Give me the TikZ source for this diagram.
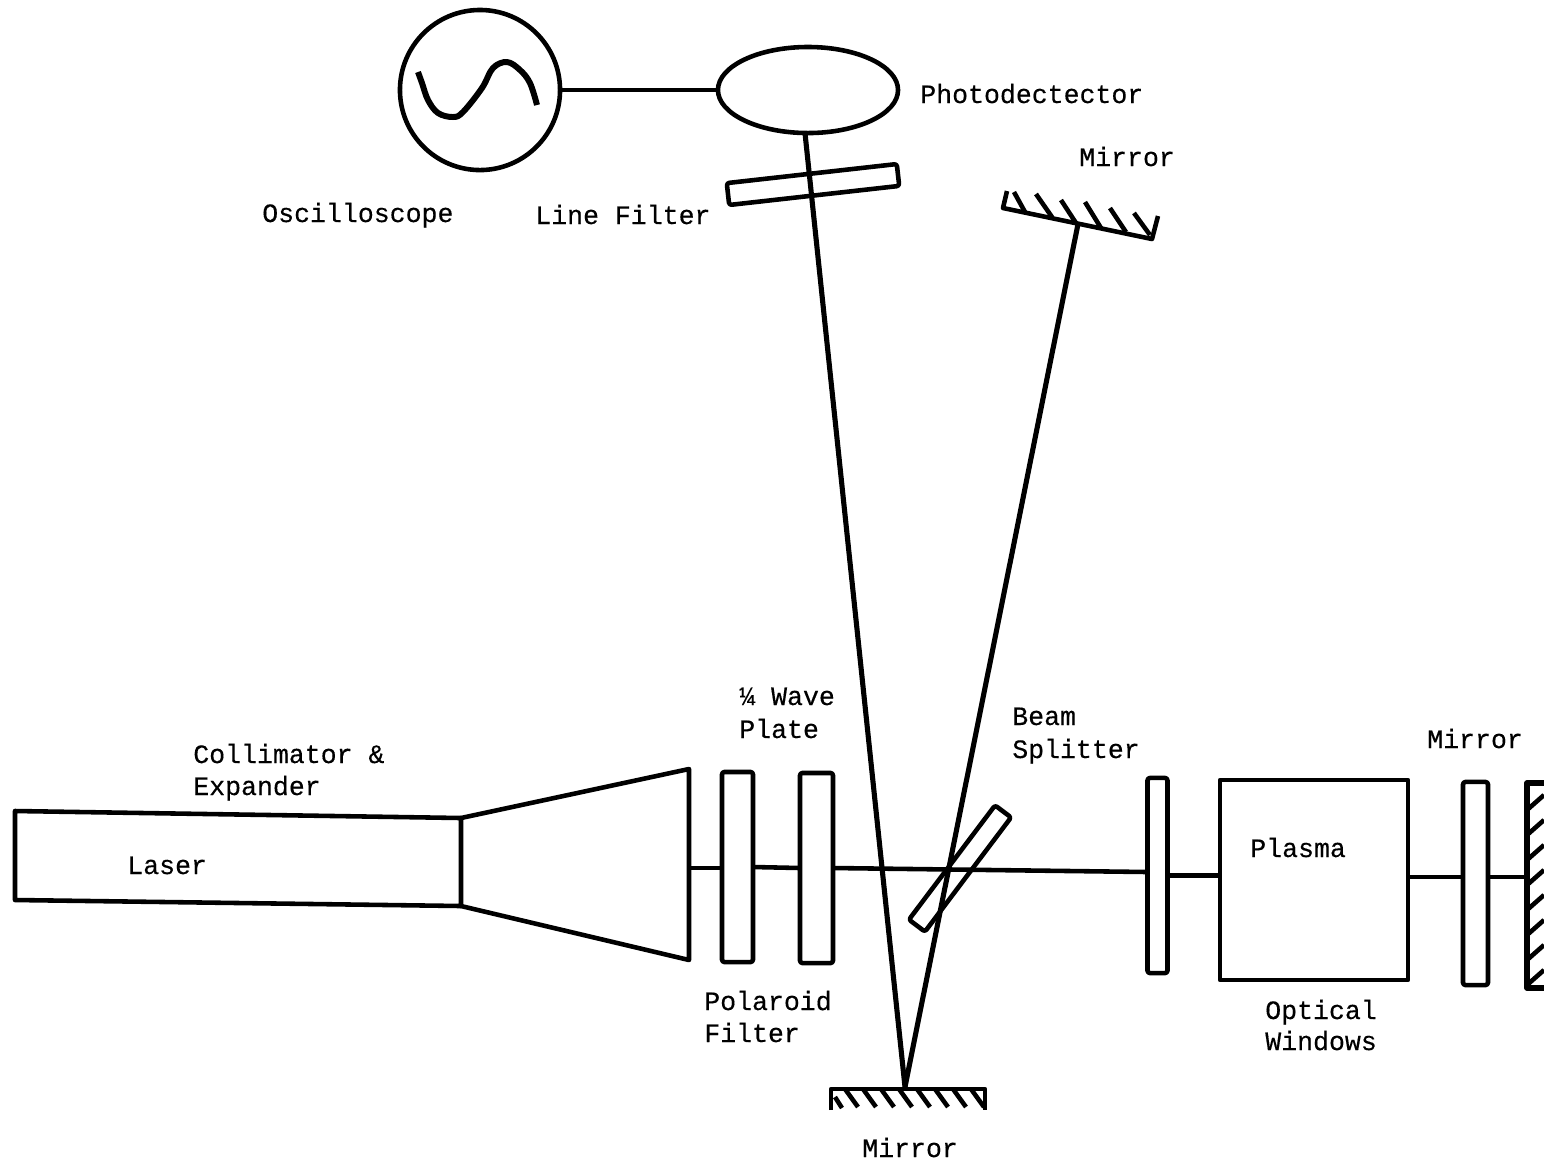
\documentclass[tikz,border=0pt]{standalone}
\usepackage{fontspec}
\usepackage{tikz}
\usetikzlibrary{shapes.geometric}
\setmonofont{Liberation Mono}[FakeBold=0.3]
\tikzset{
    optic/.style={draw, rectangle, inner sep=0, outer sep=0, rounded corners=0.7pt},
    lbl/.style={anchor=base west, inner sep=0, font=\ttfamily\fontsize{7.55}{9}\selectfont},
}

\begin{document}
\begin{tikzpicture}[x=0.01cm, y=-0.01cm, line width=1.3pt, line join=round]
    \useasboundingbox (0, 0) rectangle (1544, 1162);

    \node[draw, circle, inner sep=0, outer sep=0, minimum size=1.6cm] at (480, 90) (scope) {};
    \node[draw, ellipse, inner sep=0, outer sep=0, minimum width=1.8cm, minimum height=0.86cm] at (808, 90) (det) {};
    \node[optic, minimum width=1.71cm, minimum height=0.22cm, rotate=6.4] at (813, 184.5) (linefilter) {};
    \node[optic, minimum width=0.31cm, minimum height=1.90cm] at (737.5, 867) (polar) {};
    \node[optic, minimum width=0.33cm, minimum height=1.90cm] at (816.5, 868) (wave) {};
    \node[optic, minimum width=1.43cm, minimum height=0.20cm, rotate=53] at (960, 868.5) (split) {};
    \node[optic, minimum width=0.20cm, minimum height=1.95cm] at (1157.5, 875.5) (winA) {};
    \node[draw, rectangle, inner sep=0, outer sep=0, minimum width=1.88cm, minimum height=2.00cm] at (1314, 880) (plasma) {};
    \node[optic, minimum width=0.25cm, minimum height=2.03cm] at (1475.5, 883.5) (winB) {};

    \coordinate (laserTL) at (15, 811);
    \coordinate (laserBL) at (15, 900);
    \coordinate (laserTR) at (461, 818);
    \coordinate (laserBR) at (461, 906);
    \coordinate (coneT) at (689, 769);
    \coordinate (coneB) at (689, 960);
    \coordinate (coneOut) at (689, 868);
    \draw (laserTR) -- (laserTL) -- (laserBL) -- (laserBR) -- cycle;
    \draw (laserTR) -- (coneT) -- (coneB) -- (laserBR);

    \coordinate (mirA) at (1003, 208);
    \coordinate (mirB) at (1152, 239);
    \coordinate (mirAhit) at (1078, 224);
    \draw (1007, 191) -- (mirA) -- (mirB) -- (1158, 216);
    \foreach \xa/\ya/\xb/\yb in {1014/192/1025/212, 1036/194/1052/217, 1061/200/1076/223, 1085/202/1101/228, 1110/208/1126/232, 1134/213/1150/235} {
        \draw (\xa, \ya) -- (\xb, \yb);
    }

    \coordinate (mirC) at (831, 1089);
    \coordinate (mirD) at (985, 1089);
    \coordinate (mirChit) at (905, 1087);
    \draw (831, 1110) -- (mirC) -- (mirD) -- (985, 1110);
    \draw (835, 1097) -- (842, 1108);
    \foreach \i in {0, 1, 2, 3, 4, 5, 6, 7} {
        \draw (845 + 18*\i, 1089) -- (858 + 18*\i, 1107);
    }

    \coordinate (mirE) at (1527, 783);
    \coordinate (mirF) at (1527, 988);
    \coordinate (mirEnd) at (1527, 877);
    \draw[line width=1.6pt] (1544, 783) -- (mirE) -- (mirF) -- (1544, 988);
    \foreach \i in {0, 1, 2, 3, 4, 5, 6, 7} {
        \draw (1527, 810 + 25*\i) -- (1544, 795 + 25*\i);
    }

    \coordinate (detOut) at (805, 133);
    \draw (scope.east) -- (det.west);
    \draw[line width=1.45pt] (detOut) -- (mirChit);
    \draw[line width=1.45pt] (mirAhit) -- (mirChit);
    \draw (coneOut) -- (polar.west |- coneOut);
    \draw (polar.east) -- (wave.west);
    \draw (wave.east) -- (winA.west |- 0, 872);
    \draw (winA.east) -- (plasma.west |- winA.east);
    \draw (plasma.east |- 0, 877) -- (winB.west |- 0, 877);
    \draw (winB.east |- mirEnd) -- (mirEnd);

    \draw[line width=1.7pt] plot[smooth, tension=0.6] coordinates {(418, 72) (422, 83) (428, 100) (438, 113) (453, 117) (463, 112) (482, 88) (493, 68) (507, 62) (520, 70) (530, 83) (537, 105)};

    \node[lbl] at (918, 103) (photolbl) {Photodectector};
    \node[lbl] at (1077, 166) (mirAlbl) {Mirror};
    \node[lbl] at (260, 222) (scopelbl) {Oscilloscope};
    \node[lbl] at (533, 224) (filterlbl) {Line Filter};
    \node[lbl] at (191, 763) (collimlbl) {Collimator \&};
    \node[lbl] at (191, 795) (expandlbl) {Expander};
    \node[lbl] at (125, 874) (laserlbl) {Laser};
    \node[lbl] at (737, 705) (wavelbl) {¼ Wave};
    \node[lbl] at (737, 738) (platelbl) {Plate};
    \node[lbl] at (1010, 725) (beamlbl) {Beam};
    \node[lbl] at (1010, 758) (splitlbl) {Splitter};
    \node[lbl] at (1425, 748) (mirElbl) {Mirror};
    \node[lbl] at (1248, 857) (plasmalbl) {Plasma};
    \node[lbl] at (702, 1010) (polarlbl) {Polaroid};
    \node[lbl] at (702, 1042) (polfillbl) {Filter};
    \node[lbl] at (1263, 1019) (opticlbl) {Optical};
    \node[lbl] at (1263, 1050) (windowlbl) {Windows};
    \node[lbl] at (860, 1157) (mirClbl) {Mirror};
\end{tikzpicture}
\end{document}
